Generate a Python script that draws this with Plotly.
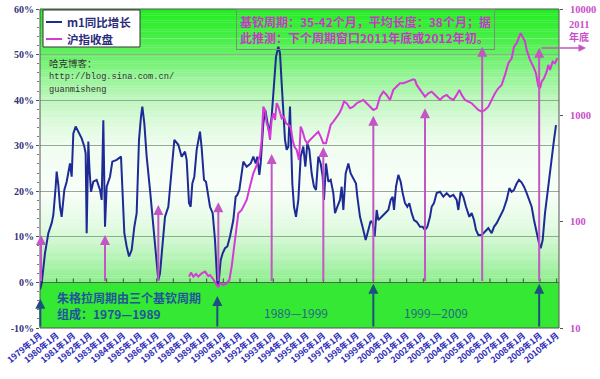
import plotly.graph_objects as go

# ---------------- data ----------------
blue_year = [1979.00, 1979.10, 1979.30, 1979.50, 1979.70, 1979.80, 1979.94, 1980.00, 1980.10, 1980.20,
             1980.30, 1980.46, 1980.60, 1980.70, 1980.80, 1980.90, 1981.00, 1981.14, 1981.30, 1981.50,
             1981.66, 1981.74, 1981.80, 1981.90, 1981.96, 1982.06, 1982.20, 1982.40, 1982.60, 1982.70,
             1982.80, 1982.86, 1982.90, 1983.00, 1983.20, 1983.34, 1983.60, 1983.86, 1983.94, 1984.06,
             1984.20, 1984.34, 1984.50, 1984.66, 1984.80, 1984.94, 1985.06, 1985.14, 1985.26, 1985.40,
             1985.60, 1985.80, 1986.00, 1986.10, 1986.20, 1986.34, 1986.50, 1986.70, 1986.90, 1987.06,
             1987.30, 1987.50, 1987.70, 1987.80, 1987.94, 1988.04, 1988.14, 1988.26, 1988.40, 1988.60,
             1988.70, 1988.84, 1988.96, 1989.04, 1989.20, 1989.36, 1989.50, 1989.64, 1989.70, 1989.84,
             1989.96, 1990.10, 1990.24, 1990.40, 1990.60, 1990.74, 1990.84, 1990.96, 1991.10, 1991.20,
             1991.40, 1991.64, 1991.80, 1991.94, 1992.04, 1992.16, 1992.24, 1992.40, 1992.52, 1992.64,
             1992.76, 1992.90, 1993.04, 1993.16, 1993.30, 1993.40, 1993.50, 1993.60, 1993.70, 1993.80,
             1993.90, 1994.00, 1994.06, 1994.14, 1994.24, 1994.36, 1994.50, 1994.64, 1994.80, 1994.92,
             1995.04, 1995.16, 1995.30, 1995.44, 1995.56, 1995.70, 1995.84, 1995.96, 1996.04, 1996.16,
             1996.30, 1996.44, 1996.60, 1996.70, 1996.84, 1997.00, 1997.10, 1997.20, 1997.34, 1997.50,
             1997.64, 1997.80, 1997.96, 1998.04, 1998.20, 1998.40, 1998.54, 1998.70, 1998.84, 1998.96,
             1999.08, 1999.20, 1999.30, 1999.50, 1999.70, 1999.90, 2000.04, 2000.16, 2000.24, 2000.36,
             2000.50, 2000.64, 2000.76, 2000.90, 2001.04, 2001.16, 2001.30, 2001.44, 2001.60, 2001.80,
             2001.96, 2002.10, 2002.24, 2002.40, 2002.50, 2002.64, 2002.80, 2003.00, 2003.20, 2003.40,
             2003.60, 2003.80, 2004.00, 2004.10, 2004.24, 2004.40, 2004.56, 2004.76, 2004.90, 2005.04,
             2005.16, 2005.30, 2005.50, 2005.70, 2005.90, 2006.10, 2006.24, 2006.40, 2006.60, 2006.80,
             2007.00, 2007.16, 2007.30, 2007.44, 2007.60, 2007.74, 2007.90, 2008.04, 2008.20, 2008.36,
             2008.50, 2008.64, 2008.80, 2008.94, 2009.04, 2009.16, 2009.30, 2009.44, 2009.56, 2009.70,
             2009.84, 2009.96]
blue_m1 = [-1.6, -0.2, 6.4, 10.8, 13.0, 14.8, 21.0, 24.3, 21.4, 16.6,
           14.4, 20.3, 22.1, 23.9, 26.1, 23.2, 32.7, 34.2, 33.1, 31.6,
           29.8, 28.3, 10.8, 30.9, 25.4, 19.9, 22.1, 22.5, 20.3, 18.1,
           35.6, 18.1, 12.2, 21.0, 23.2, 26.5, 26.9, 27.6, 21.0, 10.8,
           7.9, 5.7, 7.1, 12.2, 15.2, 31.3, 36.4, 38.6, 34.9, 27.6,
           20.3, 13.0, 4.2, 0.5, 2.0, 7.9, 14.4, 16.6, 23.9, 31.3,
           30.2, 27.6, 28.7, 26.9, 17.4, 16.6, 21.7, 23.2, 29.1, 33.1,
           29.5, 22.5, 22.1, 19.9, 16.6, 15.2, 9.3, -0.2, -0.9, 4.9,
           6.4, 7.5, 7.9, 10.1, 13.7, 18.8, 19.2, 20.3, 23.9, 26.5,
           25.4, 26.1, 27.6, 26.1, 27.6, 23.6, 26.1, 34.9, 37.8, 35.6,
           32.7, 36.4, 43.7, 49.5, 51.7, 50.3, 43.7, 37.1, 31.3, 29.1,
           29.8, 38.6, 32.7, 21.7, 16.6, 14.4, 18.1, 27.6, 29.8, 25.4,
           30.5, 29.1, 23.9, 21.0, 20.3, 27.6, 26.1, 23.2, 18.1, 26.1,
           22.1, 22.5, 19.6, 15.2, 16.6, 18.1, 21.0, 15.9, 23.9, 26.1,
           23.9, 22.8, 21.7, 18.8, 14.4, 11.5, 9.3, 11.5, 13.5, 13.0,
           10.1, 15.9, 13.7, 14.4, 15.2, 15.9, 18.1, 18.8, 15.9, 21.0,
           23.6, 22.1, 19.6, 17.4, 16.6, 17.4, 15.2, 13.7, 13.3, 12.2,
           12.2, 11.5, 12.2, 14.4, 16.6, 17.4, 19.6, 19.9, 18.8, 19.6,
           18.8, 19.2, 18.1, 15.9, 19.9, 18.8, 16.6, 14.4, 15.2, 13.7,
           11.5, 10.4, 10.4, 11.1, 11.9, 10.8, 12.2, 13.0, 14.4, 15.9,
           18.1, 20.7, 19.9, 20.3, 21.7, 22.5, 21.9, 21.0, 19.6, 18.1,
           16.6, 13.7, 10.8, 8.6, 7.5, 9.3, 15.2, 19.6, 23.2, 26.9,
           31.3, 34.5]

sh_year = [1987.94, 1988.06, 1988.20, 1988.36, 1988.50, 1988.70, 1988.90, 1989.10, 1989.20, 1989.40,
           1989.60, 1989.70, 1989.80, 1990.00, 1990.20, 1990.36, 1990.50, 1990.60, 1990.76, 1990.90,
           1991.10, 1991.24, 1991.40, 1991.60, 1991.80, 1992.00, 1992.20, 1992.30, 1992.40, 1992.50,
           1992.60, 1992.70, 1992.80, 1992.90, 1993.00, 1993.10, 1993.20, 1993.30, 1993.40, 1993.50,
           1993.64, 1993.76, 1993.90, 1994.04, 1994.16, 1994.26, 1994.40, 1994.54, 1994.64, 1994.76,
           1994.90, 1995.04, 1995.20, 1995.40, 1995.56, 1995.70, 1995.84, 1996.00, 1996.16, 1996.30,
           1996.44, 1996.60, 1996.80, 1996.96, 1997.10, 1997.24, 1997.40, 1997.60, 1997.80, 1998.00,
           1998.20, 1998.40, 1998.60, 1998.80, 1999.00, 1999.20, 1999.40, 1999.60, 1999.80, 2000.00,
           2000.20, 2000.40, 2000.60, 2000.80, 2001.00, 2001.20, 2001.40, 2001.50, 2001.60, 2001.80,
           2002.00, 2002.10, 2002.30, 2002.50, 2002.70, 2002.90, 2003.00, 2003.20, 2003.40, 2003.60,
           2003.80, 2004.00, 2004.16, 2004.30, 2004.50, 2004.70, 2004.90, 2005.10, 2005.30, 2005.50,
           2005.70, 2005.90, 2006.10, 2006.30, 2006.50, 2006.70, 2006.90, 2007.10, 2007.30, 2007.44,
           2007.60, 2007.74, 2007.84, 2008.00, 2008.10, 2008.20, 2008.40, 2008.60, 2008.76, 2008.90,
           2009.00, 2009.10, 2009.24, 2009.40, 2009.50, 2009.60, 2009.76, 2009.90, 2010.04]
sh_close = [30.4, 33.2, 30.4, 32.2, 30.4, 32.7, 33.9, 30.8, 31.5, 28.7,
            25.4, 24.2, 26.3, 25.4, 26.3, 28.3, 37.8, 50.4, 89.7, 120,
            129, 144, 160, 215, 285, 340, 420, 587, 1208, 1124,
            842, 755, 587, 906, 1045, 906, 1300, 1208, 1045, 937,
            972, 842, 813, 784, 587, 508, 473, 380, 784, 703,
            587, 546, 587, 631, 678, 703, 631, 546, 546, 678,
            813, 873, 972, 1045, 1165, 1346, 1300, 1165, 1208, 1300,
            1346, 1396, 1300, 1215, 1124, 1165, 1500, 1672, 1556, 1396,
            1734, 1864, 2003, 2003, 2077, 2123, 2185, 2150, 1932, 1734,
            1556, 1500, 1614, 1672, 1556, 1448, 1396, 1500, 1556, 1448,
            1396, 1556, 1734, 1556, 1396, 1346, 1300, 1208, 1124, 1084,
            1124, 1208, 1396, 1614, 1796, 1932, 2399, 3090, 3443, 4433,
            4766, 5508, 5920, 5309, 4940, 4121, 3319, 2872, 2488, 1864,
            1798, 2077, 2228, 2576, 2979, 2673, 3201, 3090, 3443]

series_names = ["m1同比增长", "沪指收盘"]

tick_years = list(range(1979, 2011))
tick_text = [f"{y}年1月" for y in tick_years]

pct_ticks = [-10, 0, 10, 20, 30, 40, 50, 60]
pct_text = [f"{v}%" for v in pct_ticks]
idx_ticks = [10, 100, 1000, 10000]
idx_text = ["10", "100", "1000", "10000"]

# Kitchin-cycle markers (magenta up arrows) and Juglar markers (blue up arrows)
kitchin_year = [1979.06, 1982.9, 1986.1, 1989.7, 1992.9, 1996.0, 1999.0, 2002.1, 2005.53, 2008.95]
kitchin_top = [10.4, 10.4, 17.0, 17.6, 28.2, 29.7, 36.6, 38.2, 51.7, 51.5]
juglar_year = [1979.02, 1989.64, 1999.0, 2008.95]
juglar_top = [-3.6, -3.0, -0.3, -0.3]

# ---------------- styling ----------------
CJK = "Noto Sans CJK SC"
BLUE = "#1e2a96"
MAG = "#d63ad6"
ARROW_MAG = "#c455c4"
ARROW_BLUE = "#1f4f7f"
TEXT_BLUE = "#22559a"
LEG_TEXT = "#2c2c7c"
RIGHT_TXT = "#c94fc9"

fig = go.Figure()
fig.add_trace(go.Scatter(x=blue_year, y=blue_m1, mode="lines", name=series_names[0],
                         line=dict(color=BLUE, width=2), showlegend=False))
fig.add_trace(go.Scatter(x=sh_year, y=sh_close, mode="lines", name=series_names[1], yaxis="y2",
                         line=dict(color=MAG, width=2), showlegend=False))

shapes = []
# vertical background gradient (green top -> white -> light green at 0%)
stops = [(60, (34, 236, 34)), (55, (62, 238, 62)), (50, (102, 240, 102)), (45, (150, 244, 150)),
         (40, (190, 247, 190)), (35, (220, 250, 220)), (30, (240, 253, 240)), (20, (248, 254, 248)),
         (12, (225, 250, 225)), (6, (185, 244, 185)), (0, (140, 238, 140))]


def col_at(v):
    for (v1, c1), (v2, c2) in zip(stops[:-1], stops[1:]):
        if v2 <= v <= v1:
            t = (v1 - v) / (v1 - v2)
            return "rgb(%d,%d,%d)" % tuple(round(a + (b - a) * t) for a, b in zip(c1, c2))
    return "rgb(140,238,140)"


step = 0.5
n = int(60 / step)
for i in range(n):
    lo = i * step
    hi = lo + step
    shapes.append(dict(type="rect", xref="x domain", yref="y", x0=0, x1=1, y0=lo, y1=hi + 0.05,
                       fillcolor=col_at(lo + step / 2), line=dict(width=0), layer="below"))
# bright green band below 0%
shapes.append(dict(type="rect", xref="x domain", yref="y", x0=0, x1=1, y0=-10, y1=0,
                   fillcolor="rgb(52,232,52)", line=dict(width=0), layer="below"))
# little year ticks on the 0% line
for yv in tick_years:
    shapes.append(dict(type="line", xref="x", yref="y", x0=yv, x1=yv, y0=0, y1=4,
                       ysizemode="pixel", yanchor=0, line=dict(color="#3d4d3d", width=1)))
# plot-area frame
shapes.append(dict(type="rect", xref="x domain", yref="y domain", x0=0, x1=1, y0=0, y1=1,
                   line=dict(color="#555555", width=1), layer="above"))

# legend box (positions given in page pixels, converted to paper fractions)
W, H, L, T, R, B = 600, 379, 40, 9, 41, 51
PW, PH = W - L - R, H - T - B


def px(xp):
    return (xp - L) / PW


def py(yp):
    return (H - B - yp) / PH


shapes.append(dict(type="rect", xref="paper", yref="paper", x0=px(43), x1=px(140), y0=py(47), y1=py(10),
                   fillcolor="white", line=dict(color="#333333", width=1), layer="above"))
for c, yp in [(BLUE, 22), (MAG, 39)]:
    shapes.append(dict(type="line", xref="paper", yref="paper", x0=px(46), x1=px(62), y0=py(yp), y1=py(yp),
                       line=dict(color=c, width=2), layer="above"))

annotations = []
for name, yp in zip(series_names, [22, 39]):
    annotations.append(dict(x=px(65), y=py(yp), xref="paper", yref="paper", xanchor="left", yanchor="middle",
                            text=name, showarrow=False,
                            font=dict(family=CJK, size=11.5, color=LEG_TEXT, weight="bold")))
for xv, tv in zip(kitchin_year, kitchin_top):
    annotations.append(dict(x=xv, y=tv, ax=xv, ay=0, xref="x", yref="y", axref="x", ayref="y",
                            text="", showarrow=True, arrowhead=2, arrowsize=1, arrowwidth=2,
                            arrowcolor=ARROW_MAG))
for xv, tv in zip(juglar_year, juglar_top):
    annotations.append(dict(x=xv, y=tv, ax=xv, ay=-10, xref="x", yref="y", axref="x", ayref="y",
                            text="", showarrow=True, arrowhead=2, arrowsize=1, arrowwidth=2,
                            arrowcolor=ARROW_BLUE))
# horizontal arrow to "2011 年底"
annotations.append(dict(x=px(586), y=py(48), xref="paper", yref="paper", ax=-46, ay=0,
                        text="", showarrow=True, arrowhead=2, arrowsize=1, arrowwidth=1.5,
                        arrowcolor=ARROW_MAG))
annotations.append(dict(x=px(567), y=py(24), xref="paper", yref="paper", xanchor="left", yanchor="middle",
                        text="2011", showarrow=False,
                        font=dict(family="Liberation Serif", size=10.5, color=RIGHT_TXT, weight="bold")))
annotations.append(dict(x=px(567), y=py(36.5), xref="paper", yref="paper", xanchor="left", yanchor="middle",
                        text="年底", showarrow=False,
                        font=dict(family=CJK, size=10, color=RIGHT_TXT, weight="bold")))
# top text box
annotations.append(dict(x=1990.76, y=60, xref="x", yref="y", xanchor="left", yanchor="top",
                        text="基钦周期：35-42个月，平均长度：38个月；据<br>此推测：下个周期窗口2011年底或2012年初。",
                        showarrow=False, align="left", bordercolor="#7a8f7a", borderwidth=1, borderpad=3,
                        font=dict(family=CJK, size=12, color="#c33bc3", weight="bold")))
# blog info
annotations.append(dict(x=1979.42, y=48.1, xref="x", yref="y", xanchor="left", yanchor="middle",
                        text="哈克博客：", showarrow=False,
                        font=dict(family=CJK, size=9.5, color="#333333")))
annotations.append(dict(x=1979.42, y=45.1, xref="x", yref="y", xanchor="left", yanchor="middle",
                        text="http://blog.sina.com.cn/", showarrow=False,
                        font=dict(family="Liberation Mono", size=8.7, color="#333333")))
annotations.append(dict(x=1979.42, y=42.2, xref="x", yref="y", xanchor="left", yanchor="middle",
                        text="guanmisheng", showarrow=False,
                        font=dict(family="Liberation Mono", size=8.7, color="#333333")))
# bottom band texts
annotations.append(dict(x=1979.9, y=-5.0, xref="x", yref="y", xanchor="left", yanchor="middle",
                        text="朱格拉周期由三个基钦周期<br>组成：1979—1989", showarrow=False, align="left",
                        font=dict(family=CJK, size=12, color=TEXT_BLUE, weight="bold")))
annotations.append(dict(x=1994.36, y=-6.7, xref="x", yref="y", xanchor="center", yanchor="middle",
                        text="1989—1999", showarrow=False,
                        font=dict(family=CJK, size=12, color="#246a80")))
annotations.append(dict(x=2002.73, y=-6.7, xref="x", yref="y", xanchor="center", yanchor="middle",
                        text="1999—2009", showarrow=False,
                        font=dict(family=CJK, size=12, color="#246a80")))

fig.update_layout(
    width=W, height=H,
    margin=dict(l=L, r=R, t=T, b=B, autoexpand=False),
    paper_bgcolor="white", plot_bgcolor="white",
    showlegend=False,
    xaxis=dict(range=[1979.0, 2010.14], tickmode="array", tickvals=tick_years, ticktext=tick_text,
               tickangle=-40, tickfont=dict(family=CJK, size=8.5, color="#2b2bb8", weight="bold"),
               showgrid=False, zeroline=False, showline=False, ticks="", automargin=False),
    yaxis=dict(range=[-10, 60], tickmode="array", tickvals=pct_ticks, ticktext=pct_text,
               tickfont=dict(family="Liberation Serif", size=10, color="#33337a", weight="bold"),
               showgrid=True, gridcolor="#93ab93", gridwidth=1,
               zeroline=True, zerolinecolor="#4a6a4a", zerolinewidth=1,
               showline=False, ticks="outside", ticklen=3, tickcolor="#555555", automargin=False,
               minor=dict(dtick=2, ticks="outside", ticklen=2, tickcolor="#777777", showgrid=False)),
    yaxis2=dict(type="log", range=[1, 4], overlaying="y", side="right", tickmode="array",
                tickvals=idx_ticks, ticktext=idx_text,
                tickfont=dict(family="Liberation Serif", size=10.5, color=RIGHT_TXT, weight="bold"),
                showgrid=False, zeroline=False, showline=False, ticks="outside", ticklen=3,
                tickcolor="#555555", ticklabelstandoff=5, automargin=False),
    shapes=shapes,
    annotations=annotations,
)

fig.write_html("out.html", config={"displayModeBar": False},
               post_script="document.body.style.margin='0';document.body.style.padding='0';")
